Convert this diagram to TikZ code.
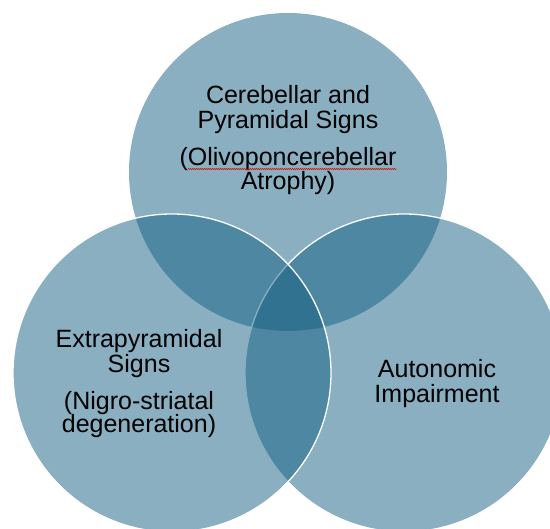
\documentclass[tikz,border=0pt]{standalone}
\usepackage{fontspec}
\setmainfont{Liberation Sans}
\usetikzlibrary{decorations.pathmorphing}
\definecolor{venncol}{RGB}{20,95,130}
\tikzset{
  venn/.style={fill=venncol,fill opacity=0.5,draw=white,line width=1.3pt},
  venntext/.style={font=\fontsize{25}{25}\selectfont,inner sep=0pt,anchor=base,text=black},
  spell/.style={red!85!black,line width=0.5pt,decorate,decoration={snake,amplitude=0.5pt,segment length=2pt}}
}
\begin{document}
\begin{tikzpicture}[x=1pt,y=-1pt]
			\useasboundingbox (0,0) rectangle (550,529);
			\clip (0,0) rectangle (550,529);
			\coordinate (top) at (288,172);
			\coordinate (lft) at (172,373);
			\coordinate (rgt) at (404,373);
			% circles: top first, then right, then left
			\fill [venn,draw=none] (top) circle [radius=159pt];
			\draw [venn] (rgt) circle [radius=159pt];
			\draw [venn] (lft) circle [radius=159pt];
			% top circle
			\node [venntext] (cer1) at (288,104) {Cerebellar and};
			\node [venntext] (cer2) at (288,129) {Pyramidal Signs};
			\node [venntext] (cer3) at (288,166) {(Olivoponcerebellar};
			\node [venntext] (cer4) at (288,190) {Atrophy)};
			\draw [spell] ([xshift=8.5pt,yshift=-3pt]cer3.base west) -- ([yshift=-3pt]cer3.base east);
			% left circle
			\node [venntext] (ext1) at (139,348) {Extrapyramidal};
			\node [venntext] (ext2) at (139,373) {Signs};
			\node [venntext] (ext3) at (139,410) {(Nigro-striatal};
			\node [venntext] (ext4) at (139,433) {degeneration)};
			% right circle
			\node [venntext] (aut1) at (437,378) {Autonomic};
			\node [venntext] (aut2) at (437,403) {Impairment};
		\end{tikzpicture}
\end{document}
